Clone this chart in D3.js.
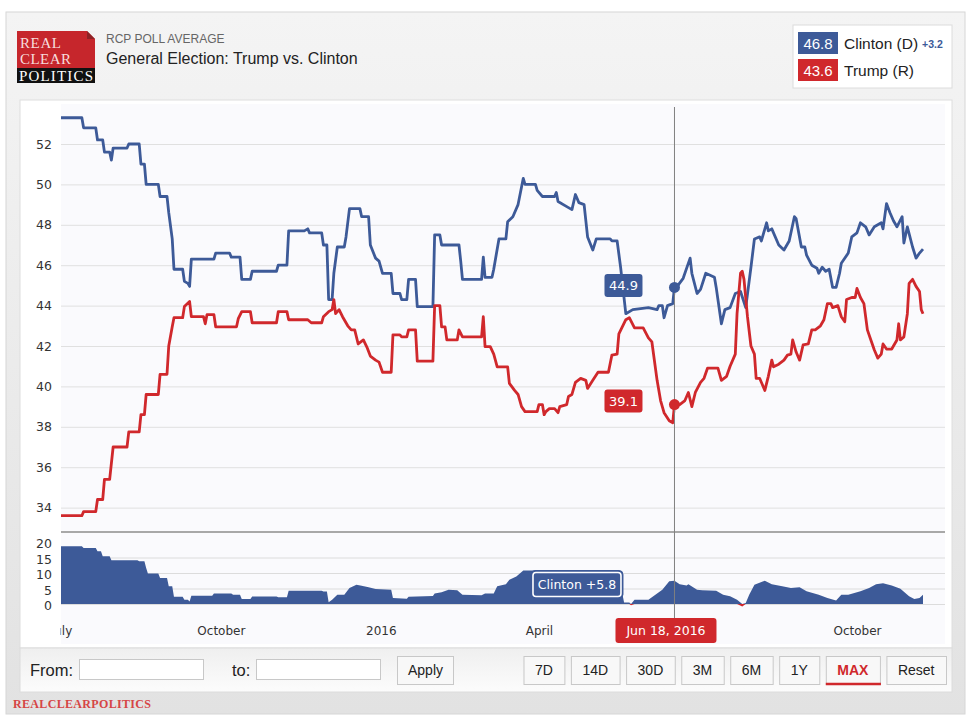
<!DOCTYPE html>
<html>
<head>
<meta charset="utf-8">
<script src="https://cdnjs.cloudflare.com/ajax/libs/d3/7.8.5/d3.min.js"></script>
<style>
body { margin: 0; background: #fff; }
svg text { font-family: "DejaVu Sans", sans-serif; }
.sans { font-family: "Liberation Sans", Arial, sans-serif !important; }
.serif { font-family: "Liberation Serif", "Times New Roman", serif !important; }
</style>
</head>
<body>
<svg id="chart" width="980" height="724"></svg>
<script>
// values
var clintonPoints = [
  ["2015-07-01",53.3],["2015-07-13",53.3],["2015-07-14",52.8],["2015-07-21",52.8],["2015-07-22",52.2],["2015-07-25",52.2],
  ["2015-07-26",51.6],["2015-07-29",51.6],["2015-07-30",51.2],["2015-07-31",51.8],["2015-08-08",51.8],["2015-08-09",52.0],
  ["2015-08-15",52.0],["2015-08-16",51.0],["2015-08-18",51.0],["2015-08-19",50.0],["2015-08-26",50.0],["2015-08-27",49.4],
  ["2015-08-31",49.4],["2015-09-01",48.6],["2015-09-03",47.3],["2015-09-04",45.8],["2015-09-09",45.8],["2015-09-10",45.2],
  ["2015-09-12",45.1],["2015-09-13",44.95],["2015-09-14",46.3],["2015-09-27",46.3],["2015-09-28",46.6],["2015-10-06",46.6],
  ["2015-10-07",46.4],["2015-10-12",46.4],["2015-10-13",45.3],["2015-10-18",45.3],["2015-10-19",45.7],["2015-11-02",45.7],
  ["2015-11-03",46.0],["2015-11-08",46.0],["2015-11-09",47.7],["2015-11-18",47.7],["2015-11-20",47.8],["2015-11-21",47.6],
  ["2015-11-28",47.6],["2015-11-29",47.0],["2015-12-01",47.0],["2015-12-02",44.3],["2015-12-04",44.3],["2015-12-05",45.6],
  ["2015-12-07",46.9],["2015-12-11",46.9],["2015-12-12",47.4],["2015-12-14",48.8],["2015-12-20",48.8],["2015-12-21",48.4],
  ["2015-12-25",48.4],["2015-12-26",47.0],["2015-12-29",46.35],["2015-12-31",46.2],["2016-01-02",45.6],["2016-01-07",45.6],
  ["2016-01-08",44.6],["2016-01-12",44.6],["2016-01-13",44.3],["2016-01-16",44.3],["2016-01-17",45.3],["2016-01-21",45.3],
  ["2016-01-22",43.95],["2016-01-31",43.95],["2016-02-01",47.5],["2016-02-04",47.5],["2016-02-05",47.0],["2016-02-15",47.0],
  ["2016-02-16",46.2],["2016-02-17",45.3],["2016-02-28",45.3],["2016-02-29",46.4],["2016-03-01",45.4],["2016-03-05",45.4],
  ["2016-03-06",45.8],["2016-03-09",47.3],["2016-03-13",47.3],["2016-03-14",48.15],["2016-03-17",48.4],["2016-03-20",49.0],
  ["2016-03-23",50.3],["2016-03-24",50.0],["2016-03-30",50.0],["2016-03-31",49.7],["2016-04-03",49.4],["2016-04-10",49.4],
  ["2016-04-11",49.6],["2016-04-12",49.15],["2016-04-17",48.9],["2016-04-20",48.75],["2016-04-22",49.5],["2016-04-24",49.1],
  ["2016-04-27",49.0],["2016-04-29",47.4],["2016-05-02",46.75],["2016-05-04",47.3],["2016-05-12",47.3],["2016-05-13",47.2],
  ["2016-05-16",47.2],["2016-05-18",45.9],["2016-05-21",43.6],["2016-05-25",43.8],["2016-06-03",43.9],["2016-06-08",43.8],
  ["2016-06-09",44.0],["2016-06-11",44.0],["2016-06-12",43.4],["2016-06-14",44.0],["2016-06-17",44.1],["2016-06-18",44.9],
  ["2016-06-20",45.0],["2016-06-23",45.35],["2016-06-27",46.35],["2016-06-28",45.6],["2016-07-01",44.6],["2016-07-03",44.8],
  ["2016-07-06",45.6],["2016-07-11",45.4],["2016-07-12",44.9],["2016-07-15",43.1],["2016-07-17",43.8],["2016-07-20",43.9],
  ["2016-07-23",44.6],["2016-07-26",44.7],["2016-07-29",43.9],["2016-08-01",45.9],["2016-08-03",47.3],["2016-08-06",47.4],
  ["2016-08-07",47.2],["2016-08-10",48.1],["2016-08-11",47.7],["2016-08-13",47.8],["2016-08-17",47.0],["2016-08-20",46.75],
  ["2016-08-23",47.2],["2016-08-26",48.4],["2016-08-27",48.3],["2016-08-30",46.9],["2016-09-01",46.9],["2016-09-02",46.5],
  ["2016-09-05",46.0],["2016-09-08",45.85],["2016-09-09",45.6],["2016-09-11",45.9],["2016-09-13",45.7],["2016-09-15",45.8],
  ["2016-09-17",44.9],["2016-09-19",44.9],["2016-09-21",45.6],["2016-09-22",46.1],["2016-09-26",46.6],["2016-09-28",47.4],
  ["2016-10-01",47.6],["2016-10-03",48.1],["2016-10-06",47.9],["2016-10-08",47.5],["2016-10-11",47.9],["2016-10-15",48.1],
  ["2016-10-16",47.8],["2016-10-18",49.05],["2016-10-20",48.6],["2016-10-22",48.2],["2016-10-24",47.9],["2016-10-27",48.4],
  ["2016-10-28",47.1],["2016-10-30",47.9],["2016-11-02",46.9],["2016-11-04",46.35],["2016-11-06",46.6],["2016-11-08",46.8]
]

var trumpPoints = [
  ["2015-07-01",33.6],["2015-07-13",33.6],["2015-07-14",33.8],["2015-07-21",33.8],["2015-07-22",34.4],["2015-07-25",34.4],
  ["2015-07-26",35.4],["2015-07-29",35.4],["2015-07-31",37.0],["2015-08-08",37.0],["2015-08-09",37.75],["2015-08-15",37.75],
  ["2015-08-16",38.6],["2015-08-18",38.6],["2015-08-19",39.6],["2015-08-26",39.6],["2015-08-27",40.6],["2015-08-31",40.6],
  ["2015-09-01",42.0],["2015-09-03",42.95],["2015-09-04",43.4],["2015-09-09",43.4],["2015-09-10",43.95],["2015-09-13",44.2],
  ["2015-09-14",43.45],["2015-09-21",43.45],["2015-09-22",43.1],["2015-09-23",43.55],["2015-09-27",43.55],["2015-09-28",42.95],
  ["2015-10-10",42.95],["2015-10-11",43.35],["2015-10-13",43.7],["2015-10-18",43.7],["2015-10-19",43.15],["2015-11-02",43.15],
  ["2015-11-03",43.7],["2015-11-08",43.7],["2015-11-09",43.3],["2015-11-20",43.3],["2015-11-22",43.15],["2015-11-28",43.15],
  ["2015-11-29",43.45],["2015-12-02",43.7],["2015-12-04",43.8],["2015-12-05",44.3],["2015-12-06",43.6],["2015-12-08",43.8],
  ["2015-12-10",43.45],["2015-12-13",43.0],["2015-12-15",42.8],["2015-12-17",42.8],["2015-12-19",42.1],["2015-12-22",42.3],
  ["2015-12-24",41.95],["2015-12-26",41.5],["2015-12-29",41.3],["2015-12-31",41.2],["2016-01-02",40.7],["2016-01-07",40.7],
  ["2016-01-08",42.55],["2016-01-12",42.55],["2016-01-13",42.45],["2016-01-16",42.45],["2016-01-17",42.8],["2016-01-21",42.8],
  ["2016-01-22",41.25],["2016-01-31",41.25],["2016-02-01",44.0],["2016-02-04",44.0],["2016-02-05",42.95],["2016-02-07",42.95],
  ["2016-02-08",42.3],["2016-02-14",42.3],["2016-02-15",42.8],["2016-02-17",42.45],["2016-02-28",42.45],["2016-02-29",43.45],
  ["2016-03-01",41.97],["2016-03-04",41.97],["2016-03-06",41.6],["2016-03-08",40.97],["2016-03-14",40.97],["2016-03-15",40.15],
  ["2016-03-18",39.8],["2016-03-20",39.6],["2016-03-22",39.0],["2016-03-24",38.75],["2016-03-31",38.75],["2016-04-01",39.1],
  ["2016-04-03",39.1],["2016-04-04",38.6],["2016-04-05",38.75],["2016-04-07",38.9],["2016-04-10",38.9],["2016-04-12",38.7],
  ["2016-04-13",39.0],["2016-04-17",39.1],["2016-04-18",39.5],["2016-04-20",39.6],["2016-04-22",40.2],["2016-04-25",40.4],
  ["2016-04-28",40.3],["2016-04-29",39.9],["2016-05-02",40.3],["2016-05-05",40.7],["2016-05-11",40.7],["2016-05-13",41.55],
  ["2016-05-16",41.6],["2016-05-17",42.6],["2016-05-21",43.3],["2016-05-23",43.4],["2016-05-26",42.9],["2016-05-31",42.9],
  ["2016-06-03",42.4],["2016-06-05",42.2],["2016-06-08",40.3],["2016-06-10",39.3],["2016-06-12",38.7],["2016-06-15",38.3],
  ["2016-06-17",38.2],["2016-06-18",39.1],["2016-06-21",39.1],["2016-06-24",39.3],["2016-06-26",39.7],["2016-06-28",39.0],
  ["2016-06-30",39.7],["2016-07-03",40.2],["2016-07-05",40.4],["2016-07-07",40.9],["2016-07-13",40.9],["2016-07-15",40.3],
  ["2016-07-18",40.5],["2016-07-20",41.0],["2016-07-23",41.6],["2016-07-24",43.6],["2016-07-26",45.6],["2016-07-27",45.7],
  ["2016-07-28",45.3],["2016-07-30",43.45],["2016-08-01",42.0],["2016-08-03",41.6],["2016-08-04",40.4],["2016-08-06",40.4],
  ["2016-08-09",39.8],["2016-08-11",40.5],["2016-08-13",41.3],["2016-08-14",40.97],["2016-08-17",41.1],["2016-08-20",41.3],
  ["2016-08-22",41.55],["2016-08-24",41.6],["2016-08-25",42.3],["2016-08-27",41.7],["2016-08-29",41.3],["2016-08-31",42.05],
  ["2016-09-03",42.1],["2016-09-05",42.8],["2016-09-07",42.8],["2016-09-10",43.0],["2016-09-12",43.3],["2016-09-14",44.1],
  ["2016-09-16",44.1],["2016-09-17",43.9],["2016-09-20",44.0],["2016-09-22",43.45],["2016-09-24",43.2],["2016-09-25",44.3],
  ["2016-09-28",44.4],["2016-09-30",44.4],["2016-10-01",44.85],["2016-10-03",44.4],["2016-10-05",44.1],["2016-10-07",42.8],
  ["2016-10-09",42.3],["2016-10-11",41.8],["2016-10-13",41.4],["2016-10-15",41.6],["2016-10-16",42.1],["2016-10-18",41.85],
  ["2016-10-21",41.85],["2016-10-24",42.3],["2016-10-25",43.1],["2016-10-26",42.3],["2016-10-28",42.45],["2016-10-30",43.6],
  ["2016-10-31",45.1],["2016-11-02",45.3],["2016-11-04",44.95],["2016-11-06",44.7],["2016-11-07",43.8],["2016-11-08",43.6]
]

// spread shown in the navigator strip (Clinton lead, as drawn)
var spreadPoints = [
  ["2015-07-01",18.6],["2015-07-13",18.6],["2015-07-14",18.1],["2015-07-21",18.1],["2015-07-22",17.0],["2015-07-24",17.0],
  ["2015-07-25",15.4],["2015-07-29",15.4],["2015-07-30",14.1],["2015-08-14",14.1],["2015-08-15",13.8],["2015-08-18",13.8],
  ["2015-08-19",11.6],["2015-08-20",9.8],["2015-08-26",9.8],["2015-08-27",8.4],["2015-08-31",8.4],["2015-09-01",5.7],
  ["2015-09-03",5.7],["2015-09-04",2.3],["2015-09-09",2.3],["2015-09-10",1.4],["2015-09-12",1.4],["2015-09-13",0.8],
  ["2015-09-14",2.7],["2015-09-26",2.7],["2015-09-27",3.4],["2015-10-07",3.4],["2015-10-08",3.0],["2015-10-12",3.0],
  ["2015-10-13",1.6],["2015-10-18",1.6],["2015-10-19",2.4],["2015-11-02",2.4],["2015-11-03",2.2],["2015-11-08",2.2],
  ["2015-11-09",4.3],["2015-11-28",4.3],["2015-11-29",4.0],["2015-12-01",4.0],["2015-12-02",0.6],["2015-12-04",1.4],
  ["2015-12-07",3.0],["2015-12-11",3.0],["2015-12-14",5.2],["2015-12-18",6.2],["2015-12-21",5.9],["2015-12-25",5.4],
  ["2015-12-29",4.8],["2016-01-07",4.6],["2016-01-08",1.9],["2016-01-16",1.7],["2016-01-17",2.3],["2016-01-31",2.6],
  ["2016-02-01",3.4],["2016-02-05",3.8],["2016-02-09",4.6],["2016-02-14",4.4],["2016-02-17",3.0],["2016-02-28",2.8],
  ["2016-03-01",3.4],["2016-03-06",3.4],["2016-03-08",5.7],["2016-03-13",6.4],["2016-03-15",7.8],["2016-03-19",8.9],
  ["2016-03-23",10.8],["2016-03-28",10.8],["2016-04-03",10.6],["2016-04-12",10.3],["2016-04-22",9.5],["2016-04-28",8.5],
  ["2016-05-02",6.5],["2016-05-12",6.6],["2016-05-16",5.6],["2016-05-19",3.3],["2016-05-20",0.5],["2016-05-23",0.5],
  ["2016-05-24",-0.4],["2016-05-26",1.4],["2016-06-03",1.4],["2016-06-07",3.0],["2016-06-11",4.6],["2016-06-15",7.3],
  ["2016-06-18",7.5],["2016-06-21",6.4],["2016-06-25",6.0],["2016-06-26",6.4],["2016-07-01",4.6],["2016-07-04",4.4],
  ["2016-07-12",4.3],["2016-07-16",3.0],["2016-07-20",2.5],["2016-07-24",1.4],["2016-07-27",-0.8],["2016-07-29",0.3],
  ["2016-07-31",3.0],["2016-08-03",6.2],["2016-08-09",7.5],["2016-08-13",6.4],["2016-08-19",5.7],["2016-08-24",5.2],
  ["2016-08-29",5.4],["2016-09-02",4.1],["2016-09-09",3.0],["2016-09-14",1.9],["2016-09-19",1.1],["2016-09-22",3.0],
  ["2016-09-26",3.0],["2016-10-03",4.1],["2016-10-08",5.2],["2016-10-12",6.4],["2016-10-16",6.7],["2016-10-21",6.0],
  ["2016-10-26",4.9],["2016-10-31",2.5],["2016-11-03",1.6],["2016-11-06",1.9],["2016-11-08",3.0]
]

var yTicks = [34, 36, 38, 40, 42, 44, 46, 48, 50, 52]
var navTicks = [0, 5, 10, 15, 20]
var monthTickDates = ["2015-07-01", "2015-10-01", "2016-01-01", "2016-04-01", "2016-10-01"]
var monthTickLabels = ["July", "October", "2016", "April", "October"]
var rangeButtons = ["7D", "14D", "30D", "3M", "6M", "1Y", "MAX", "Reset"]
var hoverDate = "2016-06-18"

var blue = "#3d5a98", red = "#d0282c"
var parse = d3.timeParse("%Y-%m-%d")
var svg = d3.select("#chart")

var clinton = clintonPoints.map(d => ({ date: parse(d[0]), value: d[1] }))
var trump = trumpPoints.map(d => ({ date: parse(d[0]), value: d[1] }))
var spread = spreadPoints.map(d => ({ date: parse(d[0]), value: d[1] }))

var x = d3.scaleTime().domain([parse("2015-07-01"), parse("2016-11-08")]).range([61, 923])
var y = d3.scaleLinear().domain([34, 52]).range([507.6, 144])
var yNav = d3.scaleLinear().domain([0, 15]).range([604, 557.5])

// outer frame
var defs = svg.append("defs")
var bg = defs.append("linearGradient").attr("id", "bg").attr("x1", 0).attr("y1", 0).attr("x2", 0).attr("y2", 1)
bg.append("stop").attr("offset", "0").attr("stop-color", "#f4f4f4")
bg.append("stop").attr("offset", "1").attr("stop-color", "#e2e2e2")
var strip = defs.append("linearGradient").attr("id", "strip").attr("x1", 0).attr("y1", 0).attr("x2", 0).attr("y2", 1)
strip.append("stop").attr("offset", "0").attr("stop-color", "#efefef")
strip.append("stop").attr("offset", "1").attr("stop-color", "#fcfcfc")
defs.append("clipPath").attr("id", "plotClip").append("rect").attr("x", 57).attr("y", 104).attr("width", 888).attr("height", 545)
defs.append("clipPath").attr("id", "labelClip").append("rect").attr("x", 60.5).attr("y", 604).attr("width", 884).attr("height", 40)

svg.append("rect").attr("x", 6).attr("y", 12).attr("width", 959).attr("height", 702)
  .attr("fill", "url(#bg)").attr("stroke", "#d6d6d6")

// logo
var logo = svg.append("g").attr("transform", "translate(17,31)")
logo.append("rect").attr("width", 78).attr("height", 37).attr("fill", "#c6262c")
logo.append("rect").attr("y", 37).attr("width", 78).attr("height", 15).attr("fill", "#111")
logo.append("polygon").attr("points", "70,0 78,0 78,8").attr("fill", "#f2f2f2")
logo.append("polygon").attr("points", "70,0 70,8 78,8").attr("fill", "#8e2226")
logo.append("text").attr("class", "serif").attr("x", 3).attr("y", 17).attr("font-size", 15)
  .attr("textLength", 41).attr("fill", "#f7dcdc").text("REAL")
logo.append("text").attr("class", "serif").attr("x", 3).attr("y", 33).attr("font-size", 15)
  .attr("textLength", 51).attr("fill", "#f7dcdc").text("CLEAR")
logo.append("text").attr("class", "serif").attr("x", 2).attr("y", 50).attr("font-size", 15)
  .attr("textLength", 74).attr("fill", "#fff").text("POLITICS")

svg.append("text").attr("class", "sans").attr("x", 106).attr("y", 43).attr("font-size", 12)
  .attr("fill", "#666").text("RCP POLL AVERAGE")
svg.append("text").attr("class", "sans").attr("x", 106).attr("y", 64).attr("font-size", 16)
  .attr("fill", "#222").text("General Election: Trump vs. Clinton")

// legend box
var lastC = clinton[clinton.length - 1].value, lastT = trump[trump.length - 1].value
svg.append("rect").attr("x", 793).attr("y", 25).attr("width", 159).attr("height", 63)
  .attr("fill", "#fff").attr("stroke", "#dcdcdc")
var legendRows = [{ v: lastC, name: "Clinton (D)", c: blue, y: 32 }, { v: lastT, name: "Trump (R)", c: red, y: 59 }]
legendRows.forEach(function (r) {
  svg.append("rect").attr("x", 798).attr("y", r.y).attr("width", 40).attr("height", 22).attr("fill", r.c)
  svg.append("text").attr("class", "sans").attr("x", 818).attr("y", r.y + 16.5).attr("text-anchor", "middle")
    .attr("font-size", 15).attr("fill", "#fff").text(d3.format(".1f")(r.v))
  svg.append("text").attr("class", "sans").attr("x", 844).attr("y", r.y + 16.5)
    .attr("font-size", 15.5).attr("fill", "#222").text(r.name)
})
svg.append("text").attr("class", "sans").attr("x", 922).attr("y", 48).attr("font-size", 10.5)
  .attr("font-weight", "bold").attr("fill", blue).text(d3.format("+.1f")(lastC - lastT))

// chart panel
svg.append("rect").attr("x", 20).attr("y", 100).attr("width", 932).attr("height", 548)
  .attr("fill", "#fff").attr("stroke", "#dedede")
svg.append("rect").attr("x", 61).attr("y", 104).attr("width", 884).attr("height", 540).attr("fill", "#fafafd")

// main y axis + grid
var yAxis = svg.append("g").attr("transform", "translate(61,0)")
  .call(d3.axisLeft(y).tickValues(yTicks).tickSize(-884).tickPadding(9))
yAxis.select(".domain").remove()
yAxis.selectAll("line").attr("stroke", "#e0e0e0")
yAxis.selectAll("text").attr("font-size", 12.5).attr("fill", "#333").attr("font-family", "DejaVu Sans")

// navigator y axis + grid
var navAxis = svg.append("g").attr("transform", "translate(61,0)")
  .call(d3.axisLeft(yNav).tickValues(navTicks).tickSize(-884).tickPadding(9))
navAxis.select(".domain").remove()
navAxis.selectAll("line").attr("stroke", d => d == 20 ? "none" : "#dcdcdc")
navAxis.selectAll("text").attr("font-size", 12.5).attr("fill", "#333").attr("font-family", "DejaVu Sans").attr("dy", "0.45em")

// x axis labels (clip on an outer group so the clip box stays in page coords)
var xAxis = svg.append("g").attr("clip-path", "url(#labelClip)")
  .append("g").attr("transform", "translate(0,620)")
  .call(d3.axisBottom(x).tickValues(monthTickDates.map(parse)).tickSize(0).tickPadding(6)
    .tickFormat((d, i) => monthTickLabels[i]))
xAxis.select(".domain").remove()
xAxis.selectAll("text").attr("font-size", 12).attr("fill", "#333").attr("font-family", "DejaVu Sans")

// main lines
var plot = svg.append("g").attr("clip-path", "url(#plotClip)")
var line = d3.line().x(d => x(d.date)).y(d => y(d.value))
plot.append("path").datum(clinton).attr("d", line).attr("fill", "none").attr("stroke", blue)
  .attr("stroke-width", 2.8).attr("stroke-linejoin", "round")
plot.append("path").datum(trump).attr("d", line).attr("fill", "none").attr("stroke", red)
  .attr("stroke-width", 2.8).attr("stroke-linejoin", "round")

// navigator spread area (positive blue, negative red)
var navPos = d3.area().x(d => x(d.date)).y0(yNav(0)).y1(d => yNav(Math.max(d.value, 0)))
var navNeg = d3.area().x(d => x(d.date)).y0(yNav(0)).y1(d => yNav(Math.min(d.value, 0)))
plot.append("path").datum(spread).attr("d", navPos).attr("fill", blue)
plot.append("path").datum(spread).attr("d", navNeg).attr("fill", red)

// separator between main chart and navigator
svg.append("line").attr("x1", 61).attr("x2", 945).attr("y1", 532).attr("y2", 532)
  .attr("stroke", "#a8a8a8").attr("stroke-width", 2)

// hover crosshair
var hd = parse(hoverDate)
var hc = clinton.find(d => +d.date == +hd), ht = trump.find(d => +d.date == +hd)
var hx = x(hd)
svg.append("line").attr("x1", hx).attr("x2", hx).attr("y1", 107).attr("y2", 618)
  .attr("stroke", "#808080").attr("stroke-width", 1)

svg.append("circle").attr("cx", hx).attr("cy", y(hc.value)).attr("r", 5.5).attr("fill", blue)
svg.append("circle").attr("cx", hx).attr("cy", y(ht.value)).attr("r", 5.5).attr("fill", red)

function valueTag(val, color, cy) {
  svg.append("rect").attr("x", hx - 70).attr("y", cy - 12).attr("width", 38).attr("height", 23)
    .attr("rx", 3).attr("fill", color)
  svg.append("text").attr("x", hx - 51).attr("y", cy + 4.5).attr("text-anchor", "middle")
    .attr("font-size", 13).attr("fill", "#fff").text(d3.format(".1f")(val))
}
valueTag(hc.value, blue, y(hc.value) - 1.5)
valueTag(ht.value, red, y(ht.value) - 3)

// date flag under the axis
svg.append("rect").attr("x", hx - 59).attr("y", 618).attr("width", 101).attr("height", 25)
  .attr("rx", 3).attr("fill", red)
svg.append("text").attr("x", hx - 8.5).attr("y", 635).attr("text-anchor", "middle")
  .attr("font-size", 12.5).attr("fill", "#fff").text(d3.timeFormat("%b %d, %Y")(hd))

// navigator tooltip
svg.append("rect").attr("x", hx - 143.5).attr("y", 570.5).attr("width", 92).attr("height", 28)
  .attr("rx", 4).attr("fill", blue).attr("stroke", blue).attr("stroke-width", 1)
svg.append("rect").attr("x", hx - 141.5).attr("y", 572.5).attr("width", 88).attr("height", 24)
  .attr("rx", 3).attr("fill", blue).attr("stroke", "#fff").attr("stroke-width", 1.6)
svg.append("text").attr("x", hx - 97.5).attr("y", 589).attr("text-anchor", "middle")
  .attr("font-size", 12.5).attr("fill", "#fff").text("Clinton " + d3.format("+.1f")(hc.value - ht.value))

// bottom control strip
svg.append("rect").attr("x", 20).attr("y", 648).attr("width", 932).attr("height", 44)
  .attr("fill", "url(#strip)").attr("stroke", "#dcdcdc")
svg.append("text").attr("class", "sans").attr("x", 30).attr("y", 675.5).attr("font-size", 16.5)
  .attr("fill", "#222").text("From:")
svg.append("rect").attr("x", 79.5).attr("y", 659.5).attr("width", 124).attr("height", 20)
  .attr("fill", "#fff").attr("stroke", "#c8c8c8")
svg.append("text").attr("class", "sans").attr("x", 232).attr("y", 675.5).attr("font-size", 16.5)
  .attr("fill", "#222").text("to:")
svg.append("rect").attr("x", 256.5).attr("y", 659.5).attr("width", 124).attr("height", 20)
  .attr("fill", "#fff").attr("stroke", "#c8c8c8")
svg.append("rect").attr("x", 397.5).attr("y", 656.5).attr("width", 56).attr("height", 28)
  .attr("fill", "#f8f8f8").attr("stroke", "#c8c8c8")
svg.append("text").attr("class", "sans").attr("x", 425.5).attr("y", 675).attr("text-anchor", "middle")
  .attr("font-size", 14).attr("fill", "#222").text("Apply")

// range buttons, laid out right to left from measured text widths
var btnRight = 946, gap = 6.5
var btnG = svg.append("g")
var widths = rangeButtons.map(function (b) {
  var t = btnG.append("text").attr("class", "sans").attr("font-size", 14)
    .attr("font-weight", b == "MAX" ? "bold" : "normal").text(b)
  var w = t.node().getComputedTextLength()
  t.remove()
  return w + 23
})
var bx = btnRight
var lefts = []
for (var i = rangeButtons.length - 1; i >= 0; i--) {
  bx -= widths[i]
  lefts[i] = bx
  bx -= gap
}
rangeButtons.forEach(function (b, i) {
  btnG.append("rect").attr("x", lefts[i] + 0.5).attr("y", 656.5).attr("width", widths[i]).attr("height", 28)
    .attr("fill", "#f8f8f8").attr("stroke", "#c8c8c8")
  btnG.append("text").attr("class", "sans").attr("x", lefts[i] + widths[i] / 2).attr("y", 675)
    .attr("text-anchor", "middle").attr("font-size", 14)
    .attr("font-weight", b == "MAX" ? "bold" : "normal")
    .attr("fill", b == "MAX" ? red : "#222").text(b)
  if (b == "MAX") {
    btnG.append("line").attr("x1", lefts[i]).attr("x2", lefts[i] + widths[i] + 1)
      .attr("y1", 684).attr("y2", 684).attr("stroke", red).attr("stroke-width", 2.5)
  }
})

// footer mark
svg.append("text").attr("class", "serif").attr("x", 13).attr("y", 708).attr("font-size", 12)
  .attr("font-weight", "bold").attr("textLength", 138).attr("fill", "#d64545").text("REALCLEARPOLITICS")
</script>
</body>
</html>
